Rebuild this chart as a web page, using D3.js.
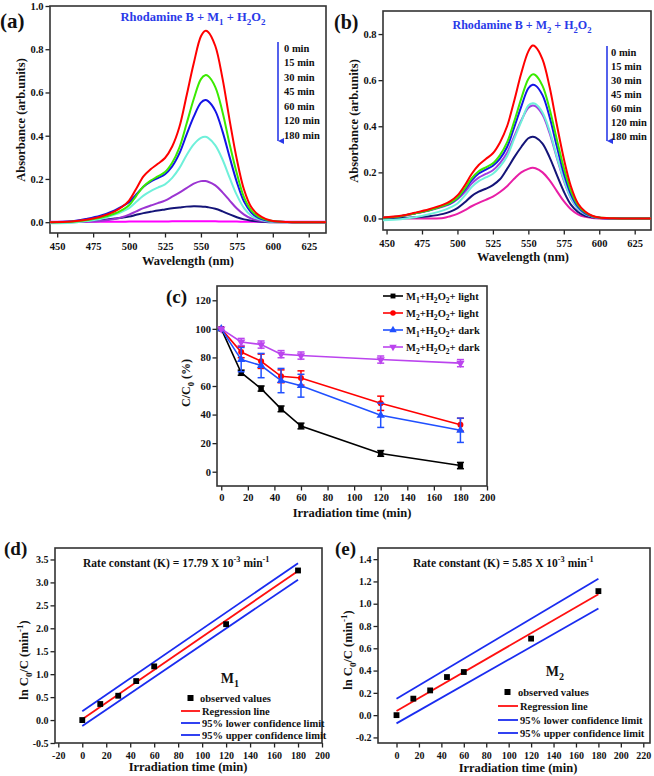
<!DOCTYPE html>
<html><head><meta charset="utf-8">
<script src="https://cdn.jsdelivr.net/npm/d3@7/dist/d3.min.js"></script>
<style>
body{margin:0;background:#fff}
svg text{font-family:"Liberation Serif","Times New Roman",serif;font-weight:bold;fill:#111}
</style>
</head><body>
<svg id="fig" width="654" height="776"></svg>
<script>
// ---------- DATA ----------
const wavelengths = [445,460,470,480,490,495,500,505,510,515,520,525,530,535,540,545,550,553,555,560,565,570,575,580,585,590,595,600,610,620,637];
const timeLabels = ["0 min","15 min","30 min","45 min","60 min","120 min","180 min"];
// panel (a): Rhodamine B + M1 + H2O2
const a0   = [0,0.003,0.011,0.025,0.05,0.07,0.10,0.155,0.212,0.245,0.27,0.297,0.35,0.44,0.585,0.735,0.86,0.885,0.88,0.815,0.665,0.47,0.29,0.15,0.07,0.034,0.015,0.006,0.001,0,0];
const a15  = [0,0.002,0.009,0.02,0.04,0.056,0.078,0.122,0.165,0.192,0.212,0.232,0.275,0.345,0.455,0.57,0.662,0.68,0.676,0.625,0.51,0.36,0.225,0.115,0.055,0.026,0.012,0.005,0.001,0,0];
const a30  = [0,0.004,0.015,0.03,0.055,0.072,0.092,0.128,0.164,0.188,0.204,0.222,0.258,0.318,0.405,0.488,0.553,0.565,0.56,0.515,0.42,0.30,0.185,0.095,0.045,0.02,0.009,0.004,0.001,0,0];
const a45  = [-0.005,-0.003,0.005,0.015,0.035,0.048,0.065,0.094,0.123,0.144,0.16,0.175,0.205,0.25,0.31,0.36,0.39,0.395,0.39,0.355,0.29,0.205,0.125,0.065,0.03,0.014,0.006,0.002,0,0,0];
const a60  = [0,0,0.002,0.006,0.015,0.023,0.035,0.05,0.065,0.077,0.088,0.1,0.118,0.137,0.158,0.178,0.19,0.19,0.187,0.17,0.138,0.1,0.063,0.035,0.017,0.008,0.003,0.001,0,0,0];
const a120 = [0,0.001,0.004,0.009,0.017,0.021,0.026,0.034,0.042,0.048,0.054,0.059,0.064,0.068,0.072,0.074,0.073,0.071,0.069,0.062,0.05,0.036,0.023,0.013,0.007,0.003,0.001,0,0,0,0];
const a180 = [0.002,0.002,0.002,0.002,0.002,0.002,0.003,0.003,0.003,0.003,0.003,0.003,0.004,0.004,0.004,0.004,0.004,0.004,0.004,0.004,0.003,0.003,0.003,0.002,0.002,0.002,0.002,0.002,0.002,0.002,0.002];
// panel (b): Rhodamine B + M2 + H2O2
const b0   = [0.003,0.012,0.025,0.04,0.06,0.075,0.1,0.142,0.193,0.232,0.258,0.283,0.33,0.4,0.51,0.63,0.725,0.75,0.745,0.69,0.57,0.41,0.26,0.14,0.065,0.03,0.012,0.004,0.001,0,0];
const b15  = [0.002,0.01,0.022,0.036,0.055,0.068,0.09,0.128,0.174,0.205,0.222,0.239,0.275,0.33,0.42,0.52,0.605,0.625,0.622,0.575,0.475,0.345,0.22,0.12,0.058,0.027,0.011,0.004,0.001,0,0];
const b30  = [0.002,0.01,0.022,0.036,0.055,0.066,0.088,0.123,0.165,0.195,0.212,0.229,0.26,0.31,0.395,0.485,0.565,0.58,0.577,0.535,0.44,0.315,0.195,0.105,0.05,0.022,0.009,0.003,0.001,0,0];
const b45  = [-0.008,-0.003,0.005,0.018,0.035,0.048,0.065,0.098,0.136,0.162,0.178,0.194,0.225,0.27,0.345,0.42,0.49,0.5,0.497,0.46,0.38,0.27,0.17,0.09,0.043,0.019,0.008,0.003,0.001,0,0];
const b60  = [0.002,0.01,0.022,0.035,0.052,0.063,0.083,0.113,0.151,0.177,0.193,0.209,0.24,0.285,0.355,0.425,0.48,0.49,0.487,0.45,0.37,0.265,0.165,0.088,0.042,0.019,0.008,0.003,0.001,0,0];
const b120 = [0,0.002,0.005,0.01,0.02,0.03,0.045,0.069,0.097,0.116,0.129,0.145,0.17,0.215,0.265,0.31,0.348,0.355,0.352,0.325,0.265,0.19,0.117,0.06,0.028,0.012,0.005,0.002,0,0,0];
const b180 = [0,0,0,0,0.002,0.01,0.02,0.035,0.053,0.068,0.081,0.095,0.115,0.14,0.172,0.2,0.215,0.22,0.218,0.2,0.165,0.12,0.075,0.04,0.018,0.007,0.002,0,0,0,0];
// panel (c): C/C0 (%) vs irradiation time
const irrTime    = [0,15,30,45,60,120,180];
const m1Light    = [100,69.3,58.2,44,32,12.8,4.3];
const m1LightErr = [0,1.8,1.8,2,2,2,2.2];
const m2Light    = [100,83.8,77.3,66.8,65.6,47.9,32.9];
const m2LightErr = [0,4,5,4.5,5,5,4.5];
const m1Dark     = [100,78.5,74.3,63.8,60.2,39.5,29];
const m1DarkErr  = [0,8.5,8.5,8.5,8,8.5,8.5];
const m2Dark     = [100,90.8,89,82.3,81.3,78.5,76];
const m2DarkErr  = [0,2.5,2.5,2.5,2.5,2.5,2.5];
// panel (d): M1 kinetics
const kinTime  = [0,15,30,45,60,120,180];
const d_obs    = [0,0.35,0.53,0.85,1.17,2.09,3.26];
const fitX     = [0,180];
const d_fit    = [0.02,3.25];
const d_lower  = [-0.13,3.06];
const d_upper  = [0.19,3.42];
// panel (e): M2 kinetics
const e_obs    = [0,0.148,0.222,0.342,0.387,0.687,1.113];
const e_fit    = [0.037,1.085];
const e_lower  = [-0.074,0.957];
const e_upper  = [0.148,1.224];
const legendKin = ["observed values","Regression line","95% lower confidence limit","95% upper confidence limit"];

// ---------- STYLE ----------
const specColorsA = ["#ff0000","#3bea00","#1414e6","#6ff0da","#9b34d2","#141478","#ff00ff"];
const specColorsB = ["#ff0000","#3bea00","#1414e6","#6ff0da","#a03ee0","#141478","#e81ea6"];
const titleBlue = "#2a3ae8";

const svg = d3.select("#fig");
const defs = svg.append("defs");
defs.append("marker").attr("id","arrowB").attr("viewBox","0 0 10 10").attr("refX",5).attr("refY",10)
  .attr("markerWidth",6).attr("markerHeight",7).attr("orient","auto-start-reverse").attr("markerUnits","userSpaceOnUse")
  .append("path").attr("d","M0,0 L10,0 L5,10 Z").attr("fill",titleBlue);

function rich(t, parts, fs){
  let cur = 0;
  parts.forEach(p => {
    const [txt,k] = Array.isArray(p) ? p : [p,"n"];
    const off = k==="sub" ? fs*0.32 : k==="sup" ? -fs*0.42 : 0;
    const ts = t.append("tspan").text(txt).attr("dy", off-cur);
    if (k!=="n") ts.attr("font-size", fs*0.72);
    cur = off;
  });
  return t;
}
const fmt1 = v => v.toFixed(1);
const fmt0 = v => String(v);

let clipId = 0;
function panel(c){
  const x = d3.scaleLinear().domain(c.xd).range([c.L,c.R]);
  const y = d3.scaleLinear().domain(c.yd).range([c.B,c.T]);
  const g = svg.append("g");
  const ax = g.append("g").attr("transform",`translate(0,${c.B})`);
  ax.call(d3.axisBottom(x).tickValues(c.xm).tickFormat("").tickSize(2.5).tickSizeOuter(0));
  ax.call(d3.axisBottom(x).tickValues(c.xt).tickFormat(c.xf).tickSize(4.5).tickSizeOuter(0).tickPadding(c.xpad));
  const ay = g.append("g").attr("transform",`translate(${c.L},0)`);
  ay.call(d3.axisLeft(y).tickValues(c.ym).tickFormat("").tickSize(2.5).tickSizeOuter(0));
  ay.call(d3.axisLeft(y).tickValues(c.yt).tickFormat(c.yf).tickSize(4.5).tickSizeOuter(0).tickPadding(c.ypad));
  g.selectAll(".domain").remove();
  g.selectAll(".tick line").attr("stroke","#222").attr("stroke-width",1.3);
  g.selectAll(".tick text").attr("font-size",c.tfs||10.5).style("fill","#111");
  g.append("rect").attr("x",c.L).attr("y",c.T).attr("width",c.R-c.L).attr("height",c.B-c.T)
    .attr("fill","none").attr("stroke","#333").attr("stroke-width",1.6);
  const id = "clip"+(clipId++);
  defs.append("clipPath").attr("id",id).append("rect").attr("x",c.L).attr("y",c.T).attr("width",c.R-c.L).attr("height",c.B-c.T);
  const plot = svg.append("g").attr("clip-path",`url(#${id})`);
  return {x,y,plot,g};
}

// ---------- PANEL (a) ----------
{
  const P = panel({L:50,T:6,R:326,B:233,xd:[445,637],yd:[-0.05,1.0],
    xt:[450,475,500,525,550,575,600,625], xm:d3.range(462.5,637,25), xf:fmt0, xpad:5,
    yt:[0,0.2,0.4,0.6,0.8,1.0], ym:[0.1,0.3,0.5,0.7,0.9], yf:fmt1, ypad:2});
  const series = [a0,a15,a30,a45,a60,a120,a180];
  const line = d3.line().x((d,i)=>P.x(wavelengths[i])).y(d=>P.y(d)).curve(d3.curveCatmullRom.alpha(0.5));
  series.slice().reverse().forEach((s,k)=>{
    const i = series.length-1-k;
    P.plot.append("path").attr("d",line(s)).attr("fill","none").attr("stroke",specColorsA[i]).attr("stroke-width",2);
  });
  rich(svg.append("text").attr("x",193).attr("y",21).attr("text-anchor","middle").attr("font-size",12.5).style("fill",titleBlue),
    ["Rhodamine B + M",["1","sub"]," + H",["2","sub"],"O",["2","sub"]],12.5);
  svg.append("line").attr("x1",278).attr("x2",278).attr("y1",42).attr("y2",141).attr("stroke",titleBlue).attr("stroke-width",1.6).attr("marker-end","url(#arrowB)");
  timeLabels.forEach((t,i)=> svg.append("text").attr("x",284).attr("y",48+i*14.5).attr("dy","0.35em").attr("font-size",10.5).text(t));
  svg.append("text").attr("x",0).attr("y",28).attr("font-size",21).text("(a)");
  svg.append("text").attr("transform","translate(25,120) rotate(-90)").attr("text-anchor","middle").attr("font-size",12.5).text("Absorbance (arb.units)");
  svg.append("text").attr("x",188).attr("y",265).attr("text-anchor","middle").attr("font-size",12.5).text("Wavelength (nm)");
}
// ---------- PANEL (b) ----------
{
  const P = panel({L:383,T:11,R:651,B:230,xd:[447.5,636.5],yd:[-0.05,0.9],
    xt:[450,475,500,525,550,575,600,625], xm:d3.range(462.5,637,25), xf:fmt0, xpad:5,
    yt:[0,0.2,0.4,0.6,0.8], ym:[0.1,0.3,0.5,0.7], yf:fmt1, ypad:2});
  const series = [b0,b15,b30,b45,b60,b120,b180];
  const line = d3.line().x((d,i)=>P.x(wavelengths[i])).y(d=>P.y(d)).curve(d3.curveCatmullRom.alpha(0.5));
  series.slice().reverse().forEach((s,k)=>{
    const i = series.length-1-k;
    P.plot.append("path").attr("d",line(s)).attr("fill","none").attr("stroke",specColorsB[i]).attr("stroke-width",2);
  });
  rich(svg.append("text").attr("x",522).attr("y",29).attr("text-anchor","middle").attr("font-size",12).style("fill",titleBlue),
    ["Rhodamine B + M",["2","sub"]," + H",["2","sub"],"O",["2","sub"]],12);
  svg.append("line").attr("x1",607).attr("x2",607).attr("y1",46).attr("y2",141).attr("stroke",titleBlue).attr("stroke-width",1.6).attr("marker-end","url(#arrowB)");
  timeLabels.forEach((t,i)=> svg.append("text").attr("x",611).attr("y",52+i*14).attr("dy","0.35em").attr("font-size",10.5).text(t));
  svg.append("text").attr("x",334).attr("y",29).attr("font-size",20).text("(b)");
  svg.append("text").attr("transform","translate(358,121) rotate(-90)").attr("text-anchor","middle").attr("font-size",12.5).text("Absorbance (arb.units)");
  svg.append("text").attr("x",523).attr("y",261).attr("text-anchor","middle").attr("font-size",12.5).text("Wavelength (nm)");
}
// ---------- PANEL (c) ----------
{
  const P = panel({L:217,T:286,R:487,B:486,xd:[-3.2,200],yd:[-10,130],
    xt:d3.range(0,201,20), xm:d3.range(10,200,20), xf:fmt0, xpad:3,
    yt:d3.range(0,121,20), ym:d3.range(10,121,20), yf:fmt0, ypad:1.5});
  const S = [
    {v:m1Light,e:m1LightErr,c:"#000000",sym:d3.symbolSquare,rot:0,lab:["M",["1","sub"],"+H",["2","sub"],"O",["2","sub"],"+ light"]},
    {v:m2Light,e:m2LightErr,c:"#ff0000",sym:d3.symbolCircle,rot:0,lab:["M",["2","sub"],"+H",["2","sub"],"O",["2","sub"],"+ light"]},
    {v:m1Dark,e:m1DarkErr,c:"#2050ff",sym:d3.symbolTriangle,rot:0,lab:["M",["1","sub"],"+H",["2","sub"],"O",["2","sub"],"+ dark"]},
    {v:m2Dark,e:m2DarkErr,c:"#bb44ee",sym:d3.symbolTriangle,rot:180,lab:["M",["2","sub"],"+H",["2","sub"],"O",["2","sub"],"+ dark"]}
  ];
  const line = d3.line().x((d,i)=>P.x(irrTime[i])).y(d=>P.y(d));
  S.forEach(s=>{
    P.plot.append("path").attr("d",line(s.v)).attr("fill","none").attr("stroke",s.c).attr("stroke-width",1.6);
    s.v.forEach((v,i)=>{
      if (s.e[i]>0){
        const xx=P.x(irrTime[i]), y1=P.y(v+s.e[i]), y2=P.y(v-s.e[i]);
        P.plot.append("line").attr("x1",xx).attr("x2",xx).attr("y1",y1).attr("y2",y2).attr("stroke",s.c).attr("stroke-width",1.5);
        [y1,y2].forEach(yy=>P.plot.append("line").attr("x1",xx-3.5).attr("x2",xx+3.5).attr("y1",yy).attr("y2",yy).attr("stroke",s.c).attr("stroke-width",1.5));
      }
      P.plot.append("path").attr("d",d3.symbol(s.sym,s.sym===d3.symbolCircle?28:30)())
        .attr("transform",`translate(${P.x(irrTime[i])},${P.y(v)}) rotate(${s.rot})`).attr("fill",s.c);
    });
  });
  S.forEach((s,i)=>{
    const yy = 296 + i*17;
    svg.append("line").attr("x1",383).attr("x2",403).attr("y1",yy).attr("y2",yy).attr("stroke",s.c).attr("stroke-width",1.6);
    svg.append("path").attr("d",d3.symbol(s.sym,24)()).attr("transform",`translate(393,${yy}) rotate(${s.rot})`).attr("fill",s.c);
    rich(svg.append("text").attr("x",406).attr("y",yy+3.5).attr("font-size",10.5), s.lab, 10.5);
  });
  svg.append("text").attr("x",166).attr("y",303).attr("font-size",19).text("(c)");
  rich(svg.append("text").attr("transform","translate(190,383) rotate(-90)").attr("text-anchor","middle").attr("font-size",12),
    ["C/C",["0","sub"]," (%)"],12);
  svg.append("text").attr("x",352).attr("y",517).attr("text-anchor","middle").attr("font-size",12.5).text("Irradiation time (min)");
}
// ---------- kinetics panels ----------
function kin(cfg, obs, fit, lower, upper){
  const P = panel(cfg);
  const ln = d3.line().x((d,i)=>P.x(fitX[i])).y(d=>P.y(d));
  P.plot.append("path").attr("d",ln(upper)).attr("stroke","#1a2cf0").attr("stroke-width",1.8).attr("fill","none");
  P.plot.append("path").attr("d",ln(lower)).attr("stroke","#1a2cf0").attr("stroke-width",1.8).attr("fill","none");
  P.plot.append("path").attr("d",ln(fit)).attr("stroke","#ff1010").attr("stroke-width",1.8).attr("fill","none");
  obs.forEach((v,i)=>P.plot.append("path").attr("d",d3.symbol(d3.symbolSquare,34)()).attr("transform",`translate(${P.x(kinTime[i])},${P.y(v)})`).attr("fill","#000"));
  return P;
}
function kinLegend(o){
  rich(svg.append("text").attr("x",o.mx).attr("y",o.my).attr("text-anchor","middle").attr("font-size",14),["M",[o.sub,"sub"]],14);
  svg.append("rect").attr("x",o.sqx-3).attr("y",o.ys[0]-3).attr("width",6).attr("height",6).attr("fill","#000");
  const cols = [null,"#ff1010","#1a2cf0","#1a2cf0"];
  legendKin.forEach((t,i)=>{
    if (i>0) svg.append("line").attr("x1",o.lx1).attr("x2",o.lx2).attr("y1",o.ys[i]).attr("y2",o.ys[i]).attr("stroke",cols[i]).attr("stroke-width",1.8);
    svg.append("text").attr("x", i===0? o.tx0 : o.tx).attr("y",o.ys[i]).attr("dy","0.35em").attr("font-size",10.5).text(t);
  });
}
// (d)
{
  kin({L:55,T:548,R:322,B:743,xd:[-22.75,200],yd:[-0.5,3.75],
    xt:d3.range(-20,201,20), xm:d3.range(-10,200,20), xf:fmt0, xpad:4,
    yt:d3.range(-0.5,3.51,0.5), ym:d3.range(-0.25,3.5,0.5), yf:fmt1, ypad:2, tfs:10},
    d_obs,d_fit,d_lower,d_upper);
  rich(svg.append("text").attr("x",83).attr("y",567).attr("font-size",11.5),
    ["Rate constant (K) = 17.79 X 10",["-3","sup"]," min",["-1","sup"]],11.5);
  kinLegend({mx:230,my:683,sub:"1",sqx:190.5,tx0:200,tx:202,lx1:181,lx2:200,ys:[698,711,723,735]});
  svg.append("text").attr("x",4).attr("y",555).attr("font-size",19).text("(d)");
  rich(svg.append("text").attr("transform","translate(28,660) rotate(-90)").attr("text-anchor","middle").attr("font-size",12.5),
    ["ln C",["0","sub"],"/C (min",["-1","sup"],")"],12.5);
  svg.append("text").attr("x",188).attr("y",771).attr("text-anchor","middle").attr("font-size",12.5).text("Irradiation time (min)");
}
// (e)
{
  kin({L:378,T:548,R:650,B:743,xd:[-16.5,226],yd:[-0.25,1.5],
    xt:d3.range(0,221,20), xm:d3.range(-10,220,20), xf:fmt0, xpad:4,
    yt:[-0.2,0,0.2,0.4,0.6,0.8,1.0,1.2,1.4], ym:[-0.1,0.1,0.3,0.5,0.7,0.9,1.1,1.3], yf:fmt1, ypad:2, tfs:10},
    e_obs,e_fit,e_lower,e_upper);
  rich(svg.append("text").attr("x",413).attr("y",567).attr("font-size",11.5),
    ["Rate constant (K) = 5.85 X 10",["-3","sup"]," min",["-1","sup"]],11.5);
  kinLegend({mx:555,my:676,sub:"2",sqx:507.5,tx0:518,tx:520,lx1:498,lx2:518,ys:[692,706,720,733]});
  svg.append("text").attr("x",335).attr("y",555).attr("font-size",19).text("(e)");
  rich(svg.append("text").attr("transform","translate(352,650) rotate(-90)").attr("text-anchor","middle").attr("font-size",12.5),
    ["ln C",["0","sub"],"/C (min",["-1","sup"],")"],12.5);
  svg.append("text").attr("x",518).attr("y",772).attr("text-anchor","middle").attr("font-size",12.5).text("Irradiation time (min)");
}
</script>
</body></html>
